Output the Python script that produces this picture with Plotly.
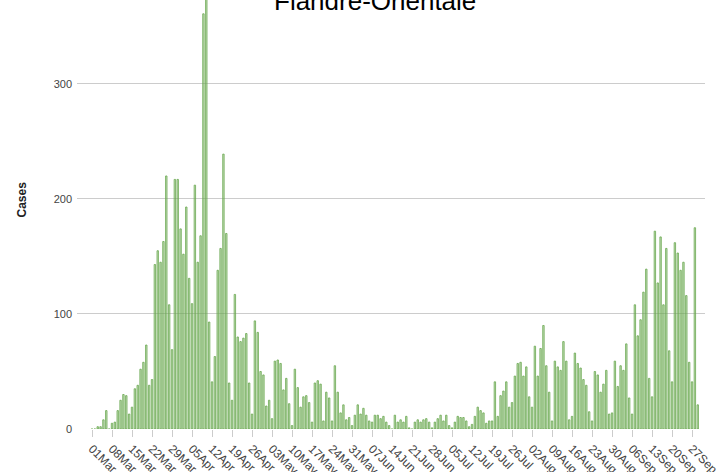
import pandas as pd
import plotly.graph_objects as go

# Daily new cases, Flandre-Orientale, 2020
mar = [0, 0, 2, 2, 8, 16, 0, 5, 6, 16, 25, 30, 29, 13, 19, 35, 38, 52, 58, 73,
       38, 43, 143, 155, 145, 163, 220, 108, 69, 217, 217]
apr = [174, 152, 193, 131, 109, 212, 145, 168, 361, 390, 93, 41, 63, 138, 157,
       239, 170, 40, 25, 117, 80, 76, 79, 83, 40, 13, 94, 84, 50, 47]
may = [20, 25, 9, 59, 60, 57, 34, 44, 22, 3, 52, 36, 19, 28, 29, 23, 6, 40, 42,
       39, 7, 32, 27, 7, 55, 32, 14, 21, 8, 10, 3]
jun = [12, 21, 13, 18, 12, 7, 6, 12, 12, 9, 11, 6, 3, 0, 12, 6, 8, 6, 11, 1,
       0, 6, 8, 6, 8, 9, 6, 1, 6, 9]
jul = [12, 7, 12, 3, 1, 6, 11, 10, 10, 7, 2, 4, 11, 19, 16, 14, 5, 7, 7, 41,
       11, 29, 33, 41, 19, 23, 46, 57, 58, 46, 54]
aug = [28, 19, 72, 46, 70, 90, 55, 32, 7, 59, 54, 51, 76, 59, 8, 11, 66, 57, 53,
       43, 38, 15, 7, 50, 47, 32, 39, 51, 13, 14, 59]
sep = [37, 55, 51, 74, 27, 13, 108, 81, 95, 119, 139, 44, 28, 172, 127, 167, 108,
       157, 68, 41, 162, 153, 138, 145, 116, 58, 41, 175, 21]

cases = mar + apr + may + jun + jul + aug + sep
start_date = "2020-03-01"
dates = pd.date_range(start_date, periods=len(cases), freq="D")

title_text = "Flandre-Orientale"
y_title = "Cases"
y_ticks = [0, 100, 200, 300]

fig = go.Figure()
fig.add_trace(go.Bar(
    x=dates, y=cases,
    marker=dict(color="rgba(106,168,79,0.38)",
                line=dict(color="rgb(106,168,79)", width=0.8)),
    hoverinfo="x+y",
))

fig.update_layout(
    width=728, height=472,
    margin=dict(l=77, r=23, t=0, b=43, autoexpand=False),
    paper_bgcolor="white", plot_bgcolor="white",
    font=dict(family="Liberation Sans, Arial, sans-serif", size=11, color="#444"),
    bargap=0.5,
    showlegend=False,
    xaxis=dict(
        automargin=False,
        range=["2020-02-24 18:00", "2020-10-01 13:00"],
        tick0=start_date, dtick=7 * 86400000,
        tickformat="%d%b", tickangle=45,
        ticks="outside", ticklen=7, tickcolor="#ccc",
        showgrid=False, zeroline=False, showline=False,
        tickfont=dict(size=12, color="#444"),
    ),
    yaxis=dict(
        automargin=False,
        range=[0, 373], tickvals=y_ticks,
        showgrid=True, gridcolor="#ccc", gridwidth=1,
        zeroline=False, showline=False,
        tickfont=dict(size=11, color="#444"),
        ticklabelstandoff=4,
    ),
    annotations=[
        dict(text=title_text, xref="paper", yref="paper", x=0.475, y=0.997,
             xanchor="center", yanchor="middle", showarrow=False,
             font=dict(size=26, color="#000", family="Liberation Sans, Arial, sans-serif")),
        dict(text="<b>" + y_title + "</b>", xref="paper", yref="paper",
             x=-0.0876, y=0.535, xanchor="center", yanchor="middle",
             textangle=-90, showarrow=False,
             font=dict(size=12, color="#222", family="Liberation Sans, Arial, sans-serif")),
    ],
)

fig.write_html("out.html", config={"displayModeBar": False},
               post_script="document.body.style.margin='0';")
